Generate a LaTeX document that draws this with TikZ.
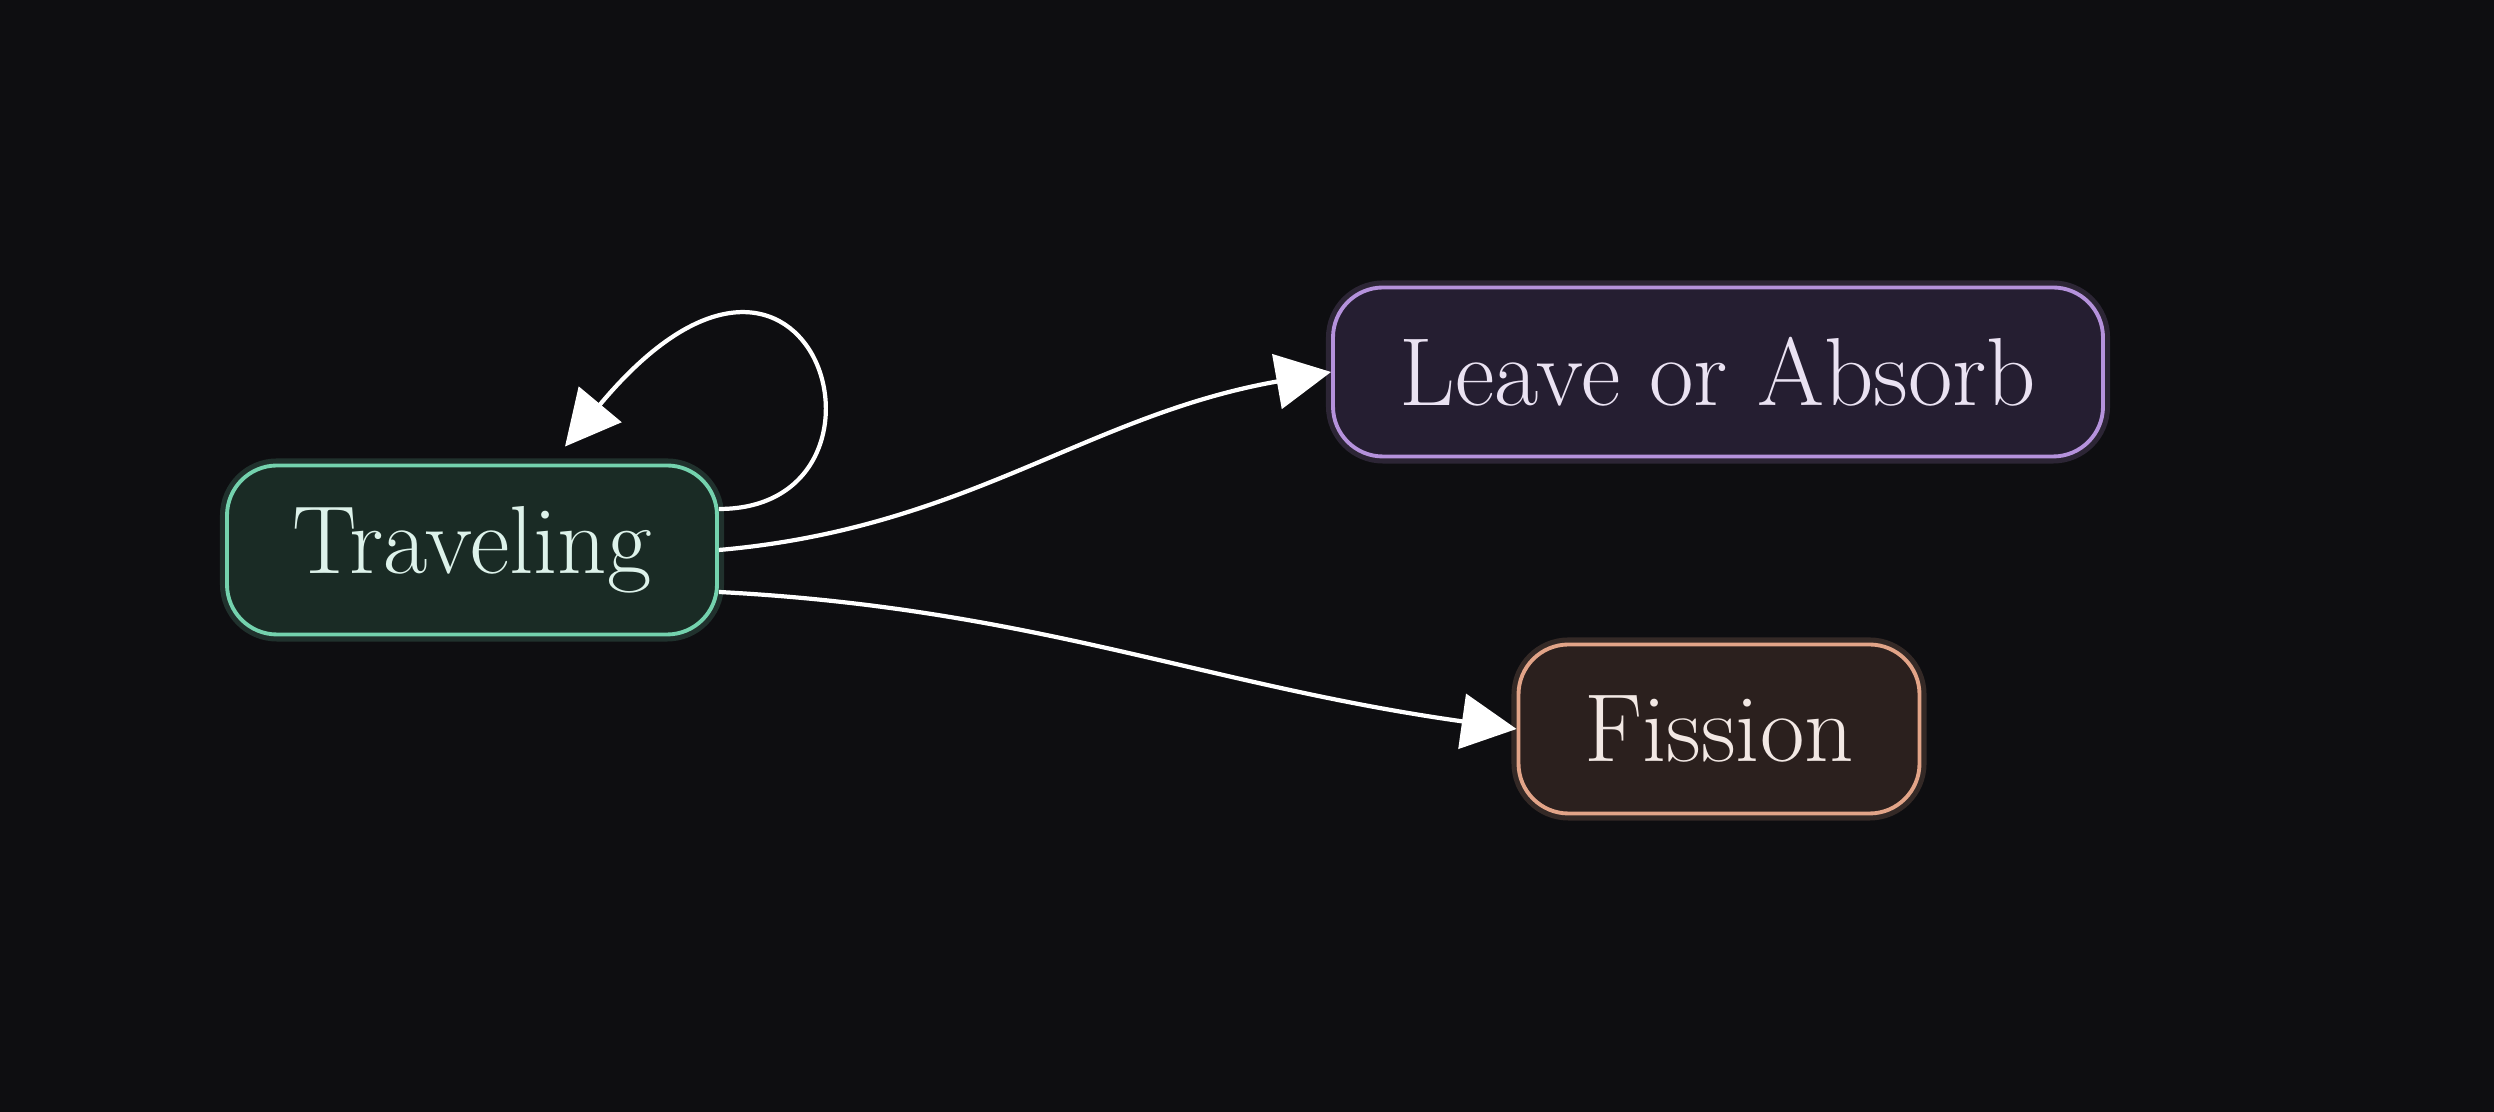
\documentclass[tikz,border=0pt]{standalone}
\usepackage{fontspec}
\usetikzlibrary{arrows.meta}
\definecolor{bg}{HTML}{0E0E11}
\definecolor{travfill}{HTML}{1A2B25}
\definecolor{travline}{HTML}{74D2AE}
\definecolor{travtext}{HTML}{DDF2EA}
\definecolor{leavefill}{HTML}{251E31}
\definecolor{leaveline}{HTML}{B592DC}
\definecolor{leavetext}{HTML}{EAE2F2}
\definecolor{fisfill}{HTML}{2B201E}
\definecolor{fisline}{HTML}{E2A488}
\definecolor{fistext}{HTML}{F2E8E4}

\begin{document}
\begin{tikzpicture}[
    statebox/.style={rounded corners=0.5cm, line width=1.1pt, minimum height=1.69cm,
      inner xsep=0pt, font=\fontsize{27.5}{32}\selectfont,
      preaction={draw=#1, line width=4pt, opacity=0.18}, draw=#1},
    flow/.style={white, line width=1.2pt, -{Triangle[length=5.5mm,width=5.5mm]}}
  ]
    % Background, fixes the size of the page
    \fill[bg] (0,0) rectangle (24.94,11.12);
    % First, locate each of the nodes and name them
    \node[statebox=travline, fill=travfill, text=travtext, minimum width=4.9cm] (travel) at (4.72,5.62) {Traveling};
    \node[statebox=leaveline, fill=leavefill, text=leavetext, minimum width=7.7cm] (leave) at (17.18,7.40) {Leave or Absorb};
    \node[statebox=fisline, fill=fisfill, text=fistext, minimum width=4.01cm] (fission) at (17.19,3.83) {Fission};
    % Now draw the arrows
    \draw[flow] ([yshift=0.41cm]travel.east) .. controls +(2.0,0) and +(2.5,3.0) .. ([xshift=0.93cm,yshift=0.17cm]travel.north);
    \draw[flow] (travel.east) to[out=5, in=190] (leave.west);
    \draw[flow] ([yshift=-0.42cm]travel.east) to[out=-3, in=172] (fission.west);
\end{tikzpicture}
\end{document}
